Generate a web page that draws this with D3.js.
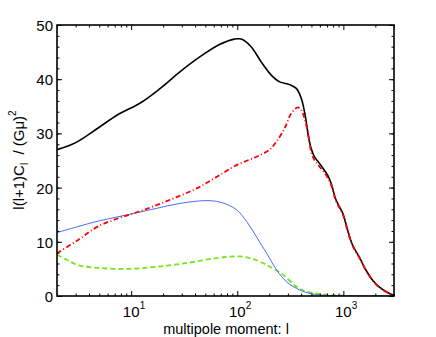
<!DOCTYPE html>
<html><head><meta charset="utf-8">
<script src="https://cdn.jsdelivr.net/npm/d3@7"></script>
<style>body{margin:0;background:#fff}svg{display:block}text{font-family:"Liberation Sans",Arial,sans-serif;fill:#000}</style>
</head><body>
<svg id="c" width="436" height="337"></svg>
<script>
const blackTotal = [[2,27.0],[3,28.3],[4.8,30.9],[7.4,33.4],[12.2,35.6],[18.8,38.3],[29,41.4],[45,44.2],[68,46.4],[94,47.4],[109,47.4],[135,46.0],[168,43.2],[208,40.8],[251,39.5],[311,39.0],[360,38.3],[401,36.5],[430,34.0],[452,31.5],[472,29.1],[497,27.2],[533,25.7],[594,24.5],[662,23.2],[711,22.3],[766,20.8],[853,17.7],[985,15.3],[1096,12.2],[1220,9.4],[1410,7.2],[1630,4.8],[1880,2.95],[2170,1.7],[2700,0.5],[3000,0.1]];
const redSeries = [[2,7.9],[3.14,10.3],[4.83,12.8],[7.45,14.3],[11.5,15.5],[17.6,16.8],[27.2,18.3],[41.8,19.9],[64.3,22.0],[99.6,24.2],[152,25.7],[202,27.0],[234,28.5],[279,30.9],[323,33.7],[372,34.8],[401,34.3],[430,32.8],[461,30.3],[479,28.5],[497,26.6],[533,25.1],[594,23.9],[687,22.3],[766,20.5],[853,17.5],[985,15.1],[1096,12.0],[1220,9.3],[1410,7.1],[1630,4.7],[1880,2.9],[2170,1.6],[2700,0.45],[3000,0.1]];
const blueSeries = [[2,11.7],[3.14,12.8],[4.83,13.8],[7.45,14.6],[11.5,15.4],[17.6,16.2],[27.2,17.0],[41.8,17.5],[52,17.6],[64,17.45],[80,16.9],[100,15.8],[123,13.7],[152,10.9],[189,7.9],[235,4.8],[292,2.6],[389,1.1],[500,0.4],[740,0.08],[1200,0.01],[3000,0]];
const greenSeries = [[2,7.6],[2.53,6.6],[3.14,5.7],[4.83,5.2],[9.2,5.0],[17.6,5.4],[33.7,6.1],[64.3,7.0],[106,7.3],[152,6.6],[203,5.4],[271,3.9],[362,1.7],[448,0.8],[700,0.25],[1000,0.06],[1800,0.01],[3000,0]];
const xMajorTicks = [10,100,1000];
const xMinorTicks = [2,3,4,5,6,7,8,9,20,30,40,50,60,70,80,90,200,300,400,500,600,700,800,900,2000,3000];
const xTickExp = ["1","2","3"];
const yMajorTicks = [0,10,20,30,40,50];
const yMinorTicks = d3.range(0,51,2);

const svg = d3.select("#c");
const L=57,R=394,T=25,B=296;
const x = d3.scaleLog().domain([2,3000]).range([L,R]);
const y = d3.scaleLinear().domain([0,50]).range([B,T]);

svg.append("defs").append("clipPath").attr("id","clip").append("rect").attr("x",L).attr("y",T).attr("width",R-L).attr("height",B-T);
const line = d3.line().x(d=>x(d[0])).y(d=>y(d[1])).curve(d3.curveCatmullRom.alpha(0.5));
const g = svg.append("g").attr("clip-path","url(#clip)");
g.append("path").datum(greenSeries).attr("d",line).attr("fill","none").attr("stroke","#6ee81a").attr("stroke-width",1.8).attr("stroke-dasharray","5,3");
g.append("path").datum(blueSeries).attr("d",line).attr("fill","none").attr("stroke","#4a6cff").attr("stroke-width",1);
g.append("path").datum(blackTotal).attr("d",line).attr("fill","none").attr("stroke","#000").attr("stroke-width",1.6);
g.append("path").datum(redSeries).attr("d",line).attr("fill","none").attr("stroke","#ff0000").attr("stroke-width",1.8).attr("stroke-dasharray","5,2.5,1,2.5");

function axisClean(sel){sel.select(".domain").remove();sel.selectAll("line").attr("stroke","#000").attr("stroke-width",1);}
svg.append("g").attr("transform",`translate(0,${B})`).call(d3.axisBottom(x).tickValues(xMajorTicks).tickSize(-5).tickFormat("")).call(axisClean);
svg.append("g").attr("transform",`translate(0,${B})`).call(d3.axisBottom(x).tickValues(xMinorTicks).tickSize(-2.5).tickFormat("")).call(axisClean);
svg.append("g").attr("transform",`translate(0,${T})`).call(d3.axisTop(x).tickValues(xMajorTicks).tickSize(-5).tickFormat("")).call(axisClean);
svg.append("g").attr("transform",`translate(0,${T})`).call(d3.axisTop(x).tickValues(xMinorTicks).tickSize(-2.5).tickFormat("")).call(axisClean);
const yl = svg.append("g").attr("transform",`translate(${L},0)`).call(d3.axisLeft(y).tickValues(yMajorTicks).tickSize(-5).tickPadding(4)).call(axisClean);
yl.selectAll("text").attr("font-size",15).attr("font-family","Liberation Sans, Arial, sans-serif").attr("fill","#000").attr("dy","0.36em");
svg.append("g").attr("transform",`translate(${L},0)`).call(d3.axisLeft(y).tickValues(yMinorTicks).tickSize(-2.5).tickFormat("")).call(axisClean);
svg.append("g").attr("transform",`translate(${R},0)`).call(d3.axisRight(y).tickValues(yMajorTicks).tickSize(-5).tickFormat("")).call(axisClean);
svg.append("g").attr("transform",`translate(${R},0)`).call(d3.axisRight(y).tickValues(yMinorTicks).tickSize(-2.5).tickFormat("")).call(axisClean);

svg.append("rect").attr("x",L).attr("y",T).attr("width",R-L).attr("height",B-T).attr("fill","none").attr("stroke","#000").attr("stroke-width",1.6);

xMajorTicks.forEach((v,i)=>{
  svg.append("text").attr("x",x(v)).attr("y",317).attr("font-size",15).attr("text-anchor","middle").text("10");
  svg.append("text").attr("x",x(v)+8.5).attr("y",308.5).attr("font-size",10).text(xTickExp[i]);
});
svg.append("text").attr("x",226).attr("y",333.5).attr("font-size",14.5).attr("text-anchor","middle").text("multipole moment: l");
const yt = svg.append("text").attr("transform","translate(24,160) rotate(-90)").attr("font-size",15).attr("text-anchor","middle");
yt.append("tspan").text("l(l+1)C");
yt.append("tspan").attr("font-size",10).attr("dy",4).text("l");
yt.append("tspan").attr("dy",-4).attr("xml:space","preserve").text("  / (Gμ)");
yt.append("tspan").attr("font-size",10).attr("dy",-8).text("2");
</script>
</body></html>
